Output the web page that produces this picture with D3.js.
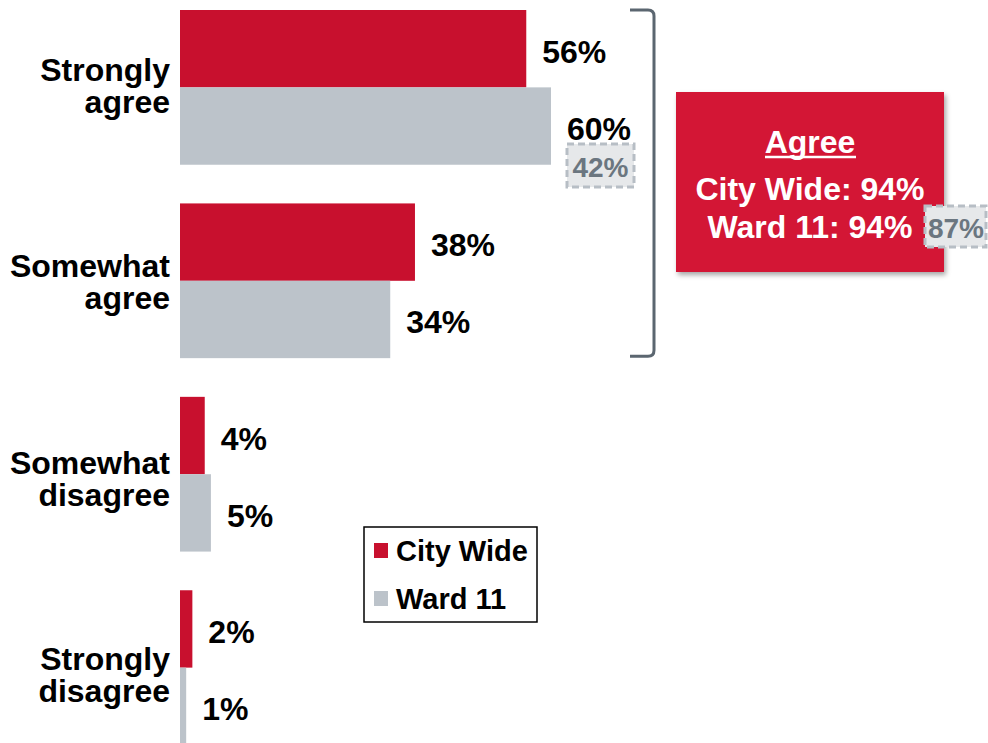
<!DOCTYPE html>
<html>
<head>
<meta charset="utf-8">
<script src="https://cdn.jsdelivr.net/npm/d3@7"></script>
<style>
  body { margin: 0; background: #fff; }
  svg { display: block; font-family: "Liberation Sans", Arial, sans-serif; font-weight: bold; }
</style>
</head>
<body>
<script>
const width = 988, height = 743;

// data
const categories = ["Strongly agree", "Somewhat agree", "Somewhat disagree", "Strongly disagree"];
const categoryLines = [["Strongly", "agree"], ["Somewhat", "agree"], ["Somewhat", "disagree"], ["Strongly", "disagree"]];
const series = ["City Wide", "Ward 11"];
const cityWide = [56, 38, 4, 2];
const ward11 = [60, 34, 5, 1];
const agreeTotals = { city: 94, ward: 94, wardPrior: 87 };
const priorStrongly = 42;

const red = "#c8102e", gray = "#bcc3ca", boxRed = "#d31736";

const x = d3.scaleLinear().domain([0, 60]).range([180, 551]);
const y0 = d3.scaleBand().domain(categories).range([10, 745]).paddingInner(0.2).paddingOuter(0);
const y1 = d3.scaleBand().domain(series).range([0, y0.bandwidth()]);
// category labels sit on their own spacing, a bit off the bar groups
const yLabel = d3.scalePoint().domain(categories).range([86, 675]);
const color = d3.scaleOrdinal().domain(series).range([red, gray]);

const svg = d3.select("body").append("svg")
    .attr("width", width)
    .attr("height", height);

const defs = svg.append("defs");
const shadow = defs.append("filter").attr("id", "shadow")
    .attr("x", "-10%").attr("y", "-10%").attr("width", "130%").attr("height", "130%");
shadow.append("feDropShadow")
    .attr("dx", 2).attr("dy", 3).attr("stdDeviation", 2.5)
    .attr("flood-color", "#000").attr("flood-opacity", 0.35);

const rows = categories.map((c, i) => ({
    cat: c,
    lines: categoryLines[i],
    values: [{ s: "City Wide", v: cityWide[i] }, { s: "Ward 11", v: ward11[i] }]
}));

const group = svg.selectAll("g.group")
    .data(rows)
    .enter().append("g")
    .attr("class", "group")
    .attr("transform", d => "translate(0," + y0(d.cat) + ")");

// bars
group.selectAll("rect")
    .data(d => d.values)
    .enter().append("rect")
    .attr("x", x(0))
    .attr("y", d => y1(d.s))
    .attr("width", d => x(d.v) - x(0))
    .attr("height", y1.bandwidth())
    .attr("fill", d => color(d.s));

// value labels
group.selectAll("text.val")
    .data(d => d.values)
    .enter().append("text")
    .attr("class", "val")
    .attr("x", d => x(d.v) + 16)
    .attr("y", d => y1(d.s) + y1.bandwidth() / 2 + 3)
    .attr("dominant-baseline", "central")
    .attr("font-size", 32)
    .attr("fill", "#000")
    .text(d => d.v + "%");

// category labels
svg.selectAll("text.cat")
    .data(rows)
    .enter().append("text")
    .attr("class", "cat")
    .attr("text-anchor", "end")
    .attr("font-size", 32)
    .attr("fill", "#000")
    .each(function (d) {
        d3.select(this).selectAll("tspan")
            .data(d.lines)
            .enter().append("tspan")
            .attr("x", 170)
            .attr("y", (t, i) => yLabel(d.cat) + (i === 0 ? -16 : 16))
            .attr("dominant-baseline", "central")
            .text(t => t);
    });

// prior-year box under Strongly agree / Ward 11
const pb = { x: x(ward11[0]) + 16, y: y0(categories[0]) + y1("Ward 11") + y1.bandwidth() / 2 + 18 };
svg.append("rect")
    .attr("x", pb.x).attr("y", pb.y)
    .attr("width", 67).attr("height", 43)
    .attr("fill", "#e6e8ea")
    .attr("stroke", "#b7bec5").attr("stroke-width", 3)
    .attr("stroke-dasharray", "7,4");
svg.append("text")
    .attr("x", pb.x + 33.5).attr("y", pb.y + 23)
    .attr("text-anchor", "middle").attr("dominant-baseline", "central")
    .attr("font-size", 28).attr("fill", "#6b7680")
    .text(priorStrongly + "%");

// bracket around agree rows
const bTop = y0(categories[0]), bBot = y0(categories[1]) + y0.bandwidth() - 2;
svg.append("path")
    .attr("d", "M630," + bTop + " H648 Q654," + bTop + " 654," + (bTop + 6) +
        " V" + (bBot - 6) + " Q654," + bBot + " 648," + bBot + " H630")
    .attr("fill", "none")
    .attr("stroke", "#5b6670")
    .attr("stroke-width", 3);

// Agree summary box
const box = svg.append("g");
box.append("rect")
    .attr("x", 676).attr("y", 92)
    .attr("width", 268).attr("height", 180)
    .attr("fill", boxRed)
    .attr("filter", "url(#shadow)");
box.append("text")
    .attr("x", 810).attr("y", 142)
    .attr("text-anchor", "middle").attr("dominant-baseline", "central")
    .attr("font-size", 32).attr("fill", "#fff")
    .text("Agree");
box.append("line")
    .attr("x1", 765).attr("x2", 856)
    .attr("y1", 157).attr("y2", 157)
    .attr("stroke", "#fff").attr("stroke-width", 2.5);
box.append("text")
    .attr("x", 810).attr("y", 189)
    .attr("text-anchor", "middle").attr("dominant-baseline", "central")
    .attr("font-size", 32).attr("fill", "#fff")
    .text("City Wide: " + agreeTotals.city + "%");
box.append("text")
    .attr("x", 810).attr("y", 227)
    .attr("text-anchor", "middle").attr("dominant-baseline", "central")
    .attr("font-size", 32).attr("fill", "#fff")
    .text("Ward 11: " + agreeTotals.ward + "%");

svg.append("rect")
    .attr("x", 925).attr("y", 206)
    .attr("width", 61).attr("height", 41)
    .attr("fill", "#e6e8ea")
    .attr("stroke", "#b7bec5").attr("stroke-width", 3)
    .attr("stroke-dasharray", "7,4");
svg.append("text")
    .attr("x", 956).attr("y", 228)
    .attr("text-anchor", "middle").attr("dominant-baseline", "central")
    .attr("font-size", 28).attr("fill", "#6b7680")
    .text(agreeTotals.wardPrior + "%");

// legend
const legend = svg.append("g").attr("transform", "translate(364,527)");
legend.append("rect")
    .attr("width", 173).attr("height", 95)
    .attr("fill", "#fff")
    .attr("stroke", "#000").attr("stroke-width", 1.5);
const li = legend.selectAll("g.item")
    .data(series)
    .enter().append("g")
    .attr("class", "item")
    .attr("transform", (d, i) => "translate(10," + (24 + i * 48) + ")");
li.append("rect")
    .attr("y", -8).attr("width", 14).attr("height", 15)
    .attr("fill", d => color(d));
li.append("text")
    .attr("x", 22).attr("y", 0)
    .attr("dominant-baseline", "central")
    .attr("font-size", 29).attr("fill", "#000")
    .text(d => d);
</script>
</body>
</html>
